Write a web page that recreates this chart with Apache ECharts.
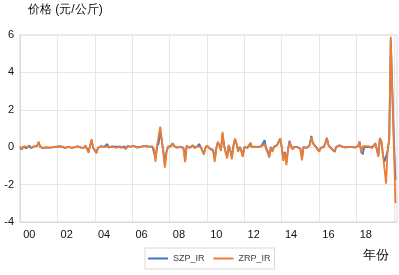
<!DOCTYPE html>
<html><head><meta charset="utf-8">
<script src="https://cdn.jsdelivr.net/npm/echarts@6/dist/echarts.min.js"></script>
<style>html,body{margin:0;padding:0;background:#fff}#c{width:399px;height:275px}</style>
</head><body><div id="c"></div>
<script>
const yTitle = '价格 (元/公斤)';
const xTitle = '年份';
const seriesNames = ['SZP_IR', 'ZRP_IR'];
const startYear = 2000;
const monthCount = 243;
const tickLabels = ['00','02','04','06','08','10','12','14','16','18'];

const SZP = [
 0.0, -0.12, 0.03, 0.05, -0.06, 0.0, 0.1, -0.05, 0.02, 0.04,
 -0.03, 0.06, 0.25, 0.02, 0.02, -0.05, 0.03, -0.01, 0.04, -0.02,
 0.03, -0.01, -0.04, 0.02, 0.01, 0.05, -0.02, 0.03, 0.05, -0.04,
 0.01, 0.02, 0.06, -0.03, 0.03, -0.01, -0.05, 0.05, 0.01, -0.01,
 0.04, -0.04, 0.08, -0.08, -0.25, 0.08, 0.35, -0.04, 0.06, -0.28,
 -0.04, 0.03, 0.06, -0.01, 0.02, 0.1, 0.17, -0.02, 0.01, 0.04,
 0.01, 0.03, -0.02, 0.03, 0.06, -0.03, 0.01, 0.04, -0.08, 0.06,
 0.01, 0.03, -0.04, 0.07, 0.01, -0.01, 0.05, 0.01, -0.02, 0.06,
 0.08, 0.06, 0.01, 0.03, -0.04, 0.04, -0.05, -0.6, 0.05, 0.2,
 0.9, 1.0, -0.2, -0.9, -0.25, 0.02, -0.05, 0.08, 0.22, 0.06,
 0.01, -0.02, 0.06, 0.03, -0.06, -0.05, -0.7, 0.05, 0.06, -0.03,
 0.02, 0.1, -0.03, 0.03, 0.06, 0.17, 0.02, -0.08, -0.35, -0.04,
 0.08, 0.06, -0.08, 0.02, -0.15, -0.65, -0.05, 0.25, 0.12, -0.15,
 0.7, 0.12, -0.25, -0.5, 0.12, -0.15, -0.55, 0.08, 0.42, 0.2,
 -0.2, 0.02, -0.15, -0.45, 0.02, 0.06, -0.03, 0.12, 0.22, 0.02,
 -0.03, 0.03, 0.06, 0.01, -0.03, 0.07, 0.05, 0.37, -0.05, -0.2,
 -0.55, 0.02, -0.2, 0.02, 0.06, 0.12, 0.25, 0.45, 0.02, -0.6,
 -0.25, -0.8, -0.15, 0.34, 0.08, -0.1, 0.02, 0.06, 0.02, 0.12,
 -0.08, -0.6, 0.02, 0.06, -0.03, 0.02, 0.12, 0.6, 0.22, 0.12,
 0.02, -0.08, -0.22, -0.03, 0.06, 0.02, 0.22, 0.5, 0.12, 0.02,
 -0.08, -0.03, -0.25, 0.02, 0.06, 0.1, 0.01, 0.03, 0.01, -0.01,
 0.01, 0.02, 0.03, 0.01, 0.02, -0.01, 0.01, 0.06, 0.3, -0.25,
 -0.38, 0.02, 0.06, 0.01, 0.06, 0.01, -0.03, 0.06, 0.22, -0.08,
 -0.45, 0.45, 0.3, -0.4, -0.78, -0.75, -0.2, 0.4, 5.75, 3.0,
 0.5, -1.76
];

const ZRP = [
 0.05, -0.1, 0.0, 0.05, -0.05, 0.02, 0.08, -0.03, 0.0, 0.05,
 -0.02, 0.05, 0.3, 0.0, 0.03, -0.04, 0.02, 0.0, 0.05, -0.03,
 0.02, 0.0, -0.05, 0.03, 0.0, 0.04, -0.03, 0.02, 0.06, -0.05,
 0.0, 0.03, 0.05, -0.04, 0.02, 0.0, -0.06, 0.04, 0.02, -0.02,
 0.05, -0.05, 0.1, -0.1, -0.3, 0.1, 0.43, -0.05, 0.05, -0.33,
 -0.05, 0.02, 0.05, -0.02, 0.0, 0.08, 0.05, -0.05, 0.0, 0.03,
 0.0, 0.02, -0.03, 0.02, 0.05, -0.04, 0.0, 0.03, -0.1, 0.05,
 0.0, 0.02, -0.05, 0.08, 0.0, -0.02, 0.04, 0.0, -0.03, 0.05,
 0.1, 0.05, 0.0, 0.02, -0.05, 0.03, -0.1, -0.78, 0.1, 0.2,
 1.1, 1.14, -0.3, -1.09, -0.3, 0.0, -0.1, 0.05, 0.2, 0.05,
 0.0, -0.03, 0.05, 0.02, -0.08, -0.1, -0.8, 0.1, 0.05, -0.05,
 0.0, 0.08, -0.05, 0.02, 0.05, 0.15, 0.0, -0.1, -0.4, -0.05,
 0.1, 0.05, -0.1, 0.0, -0.2, -0.78, -0.1, 0.3, 0.1, -0.2,
 0.82, 0.1, -0.3, -0.6, 0.1, -0.2, -0.65, 0.05, 0.47, 0.2,
 -0.25, 0.0, -0.2, -0.52, 0.0, 0.05, -0.05, 0.1, 0.25, 0.0,
 -0.05, 0.02, 0.05, 0.0, -0.05, 0.05, 0.0, 0.15, -0.1, -0.2,
 -0.52, 0.0, -0.25, 0.0, 0.05, 0.1, 0.3, 0.47, 0.0, -0.73,
 -0.3, -0.96, -0.2, 0.28, 0.05, -0.12, 0.0, 0.05, 0.0, 0.1,
 -0.1, -0.7, 0.0, 0.05, -0.05, 0.0, 0.1, 0.55, 0.2, 0.1,
 0.0, -0.1, -0.25, -0.05, 0.05, 0.0, 0.2, 0.47, 0.1, 0.0,
 -0.1, -0.05, -0.2, 0.0, 0.05, 0.1, 0.0, 0.02, 0.0, -0.02,
 0.0, 0.01, 0.02, 0.0, 0.01, -0.02, 0.0, 0.05, 0.28, -0.3,
 0.05, 0.0, 0.05, 0.0, 0.05, 0.0, -0.05, 0.05, 0.2, -0.1,
 -0.52, 0.5, 0.3, -0.43, -0.5, -1.95, -0.1, 0.4, 5.9, 2.9,
 -0.05, -3.0
];

const categories = [];
for (let i = 0; i < monthCount; i++) {
  const y = startYear + Math.floor(i / 12);
  const m = (i % 12) + 1;
  categories.push(y + '-' + (m < 10 ? '0' + m : m));
}

const FONT = '"Liberation Sans", Arial, "Noto Sans CJK SC", sans-serif';
const chart = echarts.init(document.getElementById('c'), null, {renderer: 'canvas'});
chart.setOption({
  animation: false,
  backgroundColor: '#fff',
  textStyle: {fontFamily: FONT},
  grid: {left: 20, right: 2, top: 35, bottom: 53, show: true, borderColor: '#d9d9d9', borderWidth: 1, containLabel: false},
  legend: {
    data: seriesNames, left: 145, top: 248, orient: 'horizontal',
    icon: 'rect', itemWidth: 20, itemHeight: 2, itemGap: 9,
    padding: [6, 4, 6, 3], borderColor: '#d9d9d9', borderWidth: 1,
    textStyle: {fontSize: 9, color: '#404040', fontFamily: FONT}
  },
  graphic: [
    {type: 'text', left: 28, top: 4, style: {text: yTitle, fontSize: 12, fill: '#111', font: '12px "Noto Sans CJK SC", sans-serif'}},
    {type: 'text', left: 363, top: 249, style: {text: xTitle, fontSize: 13, fill: '#111', font: '13px "Noto Sans CJK SC", sans-serif'}}
  ],
  xAxis: {
    type: 'category', data: categories, boundaryGap: false,
    axisLine: {onZero: false, lineStyle: {color: '#d9d9d9'}},
    axisTick: {show: false},
    axisLabel: {
      interval: function (idx) { return idx % 24 === 6; },
      formatter: function (val, idx) { return tickLabels[Math.floor(idx / 24)] || ''; },
      fontSize: 11, color: '#111', margin: 7, fontFamily: FONT
    },
    splitLine: {show: true, interval: function (idx) { return idx % 24 === 0 && idx > 0; }, lineStyle: {color: '#e6e6e6', width: 1}}
  },
  yAxis: {
    type: 'value', min: -4, max: 6, interval: 2,
    axisLine: {show: true, lineStyle: {color: '#d9d9d9'}},
    axisTick: {show: false},
    axisLabel: {fontSize: 11, color: '#111', margin: 6, fontFamily: FONT},
    splitLine: {show: true, lineStyle: {color: '#e6e6e6', width: 1}}
  },
  series: [
    {name: seriesNames[0], type: 'line', data: SZP, showSymbol: false, symbol: 'none', lineStyle: {color: '#4472C4', width: 1.8}, itemStyle: {color: '#4472C4'}},
    {name: seriesNames[1], type: 'line', data: ZRP, showSymbol: false, symbol: 'none', lineStyle: {color: '#ED7D31', width: 1.8}, itemStyle: {color: '#ED7D31'}}
  ]
});
</script>
</body></html>
